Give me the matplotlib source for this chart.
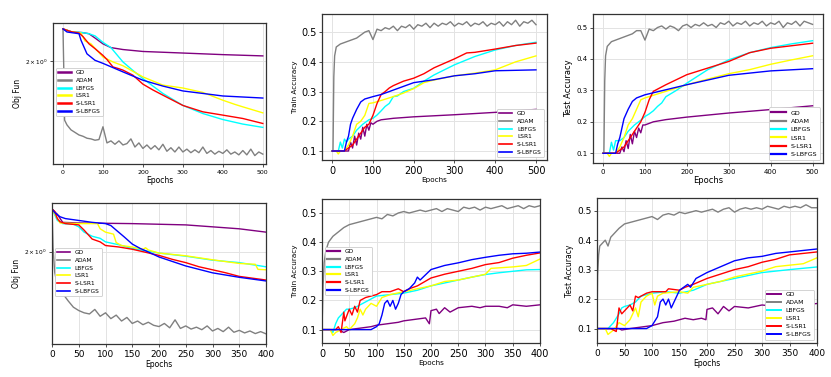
import matplotlib
matplotlib.use("Agg")
import matplotlib.pyplot as plt

# ---------------- data ----------------
METHODS = ["GD", "ADAM", "LBFGS", "LSR1", "S-LSR1", "S-LBFGS"]
COLORS = ["purple", "gray", "cyan", "yellow", "red", "blue"]

ADAM_X_TOP = [0, 2, 4] + list(range(10, 501, 10))

# Panel 1: objective, 500 epochs
P1_GD_X = [0, 20, 50, 65, 80, 100, 120, 150, 200, 250, 300, 400, 500]
P1_GD_Y = [2.43, 2.39, 2.375, 2.36, 2.30, 2.22, 2.17, 2.145, 2.12, 2.11, 2.10, 2.08, 2.064]
P1_ADAM_Y = [2.43, 1.9, 1.40,
             1.36, 1.32, 1.30, 1.28, 1.27, 1.255, 1.25, 1.24, 1.245, 1.345,
             1.22, 1.235, 1.21, 1.235, 1.205, 1.215, 1.25, 1.19, 1.22, 1.18,
             1.205, 1.175, 1.20, 1.17, 1.21, 1.16, 1.185, 1.155, 1.19, 1.155,
             1.175, 1.15, 1.17, 1.15, 1.19, 1.145, 1.165, 1.14, 1.16, 1.145,
             1.17, 1.14, 1.155, 1.135, 1.165, 1.135, 1.175, 1.13, 1.155, 1.14]
P1_LBFGS_X = [0, 20, 50, 65, 80, 100, 120, 150, 175, 200, 225, 250, 300, 350, 400, 450, 500]
P1_LBFGS_Y = [2.43, 2.39, 2.375, 2.36, 2.33, 2.24, 2.17, 1.99, 1.89, 1.80, 1.72, 1.645, 1.53, 1.457, 1.405, 1.367, 1.34]
P1_LSR1_X = [0, 20, 45, 55, 70, 100, 125, 150, 200, 250, 300, 350, 400, 430, 450, 500]
P1_LSR1_Y = [2.43, 2.39, 2.37, 2.26, 2.22, 2.05, 1.99, 1.945, 1.818, 1.73, 1.70, 1.655, 1.579, 1.54, 1.517, 1.463]
P1_SLSR1_X = [0, 20, 40, 50, 65, 80, 100, 110, 125, 140, 150, 175, 200, 225, 250, 300, 350, 400, 450, 500]
P1_SLSR1_Y = [2.43, 2.39, 2.37, 2.32, 2.22, 2.157, 2.07, 2.02, 1.931, 1.91, 1.894, 1.837, 1.74, 1.68, 1.628, 1.53, 1.472, 1.443, 1.414, 1.372]
P1_SLBFGS_X = [0, 10, 40, 45, 60, 80, 100, 150, 200, 250, 300, 350, 400, 500]
P1_SLBFGS_Y = [2.43, 2.385, 2.36, 2.27, 2.09, 2.01, 1.973, 1.874, 1.782, 1.72, 1.67, 1.645, 1.62, 1.60]

# Panel 2: train accuracy, 500 epochs
ADAM_X_TOP2 = [0, 2, 4, 6] + list(range(10, 501, 10))
P2_GD_X = [0, 40, 45, 50, 55, 60, 65, 70, 75, 80, 85, 90, 95, 100, 110, 120, 150, 200, 300, 400, 500]
P2_GD_Y = [0.1, 0.1, 0.13, 0.11, 0.15, 0.12, 0.16, 0.14, 0.18, 0.15, 0.19, 0.17, 0.195, 0.19, 0.20, 0.205, 0.21, 0.215, 0.222, 0.23, 0.24]
P2_ADAM_Y = [0.1, 0.1, 0.35, 0.42, 0.45,
             0.46, 0.465, 0.47, 0.475, 0.48, 0.49, 0.50, 0.505, 0.475, 0.51,
             0.505, 0.515, 0.51, 0.52, 0.505, 0.52, 0.515, 0.525, 0.51, 0.525,
             0.52, 0.53, 0.515, 0.53, 0.52, 0.53, 0.525, 0.535, 0.52, 0.53,
             0.525, 0.535, 0.52, 0.53, 0.525, 0.535, 0.52, 0.53, 0.525, 0.535,
             0.52, 0.535, 0.525, 0.54, 0.52, 0.535, 0.53, 0.54, 0.525]
P2_LBFGS_X = [0, 15, 20, 25, 30, 35, 40, 50, 60, 75, 90, 100, 110, 120, 130, 140, 150, 160, 175, 200, 225, 250, 300, 350, 400, 450, 500]
P2_LBFGS_Y = [0.1, 0.1, 0.13, 0.11, 0.14, 0.13, 0.14, 0.15, 0.17, 0.19, 0.205, 0.21, 0.221, 0.235, 0.25, 0.26, 0.283, 0.285, 0.30, 0.311, 0.335, 0.356, 0.39, 0.418, 0.44, 0.455, 0.466]
P2_LSR1_X = [0, 10, 15, 20, 30, 40, 50, 55, 60, 70, 80, 90, 100, 120, 150, 175, 200, 225, 250, 300, 350, 400, 450, 500]
P2_LSR1_Y = [0.1, 0.1, 0.09, 0.1, 0.1, 0.12, 0.15, 0.17, 0.19, 0.20, 0.22, 0.26, 0.262, 0.27, 0.283, 0.295, 0.31, 0.33, 0.339, 0.353, 0.362, 0.373, 0.40, 0.42]
P2_SLSR1_X = [0, 30, 40, 50, 60, 70, 80, 90, 100, 110, 120, 130, 140, 150, 175, 200, 225, 250, 275, 300, 330, 350, 400, 450, 500]
P2_SLSR1_Y = [0.1, 0.1, 0.11, 0.12, 0.14, 0.16, 0.18, 0.19, 0.22, 0.26, 0.29, 0.30, 0.312, 0.32, 0.335, 0.345, 0.36, 0.38, 0.395, 0.41, 0.43, 0.432, 0.443, 0.455, 0.463]
P2_SLBFGS_X = [0, 30, 35, 40, 45, 50, 60, 70, 80, 100, 120, 140, 160, 180, 200, 250, 300, 350, 400, 500]
P2_SLBFGS_Y = [0.1, 0.1, 0.13, 0.15, 0.19, 0.21, 0.24, 0.265, 0.275, 0.283, 0.29, 0.30, 0.31, 0.32, 0.33, 0.34, 0.353, 0.36, 0.37, 0.373]

# Panel 3: test accuracy, 500 epochs
P3_GD_X = [0, 40, 45, 50, 55, 60, 65, 70, 75, 80, 85, 90, 95, 100, 120, 150, 200, 300, 400, 500]
P3_GD_Y = [0.1, 0.1, 0.12, 0.105, 0.14, 0.115, 0.16, 0.13, 0.17, 0.15, 0.18, 0.165, 0.19, 0.19, 0.2, 0.207, 0.215, 0.228, 0.239, 0.251]
P3_ADAM_Y = [0.1, 0.1, 0.33, 0.41, 0.44,
             0.455, 0.46, 0.465, 0.47, 0.475, 0.48, 0.49, 0.49, 0.46, 0.495,
             0.49, 0.50, 0.505, 0.495, 0.505, 0.50, 0.49, 0.505, 0.51, 0.50,
             0.51, 0.505, 0.515, 0.505, 0.51, 0.50, 0.515, 0.51, 0.52, 0.505,
             0.515, 0.51, 0.52, 0.505, 0.515, 0.51, 0.52, 0.505, 0.515, 0.51,
             0.52, 0.50, 0.515, 0.51, 0.52, 0.505, 0.52, 0.515, 0.51]
P3_LBFGS_X = [0, 15, 20, 25, 30, 40, 50, 60, 75, 90, 100, 110, 120, 130, 140, 150, 175, 200, 250, 300, 350, 400, 450, 500]
P3_LBFGS_Y = [0.1, 0.1, 0.135, 0.11, 0.14, 0.14, 0.15, 0.17, 0.19, 0.205, 0.217, 0.225, 0.235, 0.249, 0.26, 0.28, 0.30, 0.323, 0.366, 0.397, 0.42, 0.436, 0.448, 0.458]
P3_LSR1_X = [0, 10, 15, 20, 30, 40, 50, 55, 60, 70, 80, 90, 100, 150, 200, 250, 300, 350, 400, 450, 500]
P3_LSR1_Y = [0.1, 0.1, 0.09, 0.1, 0.1, 0.12, 0.15, 0.17, 0.19, 0.21, 0.24, 0.27, 0.276, 0.297, 0.318, 0.336, 0.353, 0.366, 0.383, 0.397, 0.41]
P3_SLSR1_X = [0, 30, 40, 50, 60, 70, 80, 90, 100, 110, 120, 150, 200, 250, 300, 350, 400, 450, 500]
P3_SLSR1_Y = [0.1, 0.1, 0.11, 0.12, 0.14, 0.16, 0.18, 0.2, 0.23, 0.27, 0.297, 0.318, 0.35, 0.371, 0.392, 0.42, 0.434, 0.442, 0.45]
P3_SLBFGS_X = [0, 30, 35, 40, 45, 50, 60, 70, 80, 100, 150, 200, 300, 400, 500]
P3_SLBFGS_Y = [0.1, 0.1, 0.13, 0.15, 0.18, 0.21, 0.24, 0.265, 0.276, 0.286, 0.302, 0.318, 0.348, 0.362, 0.369]

# Panel 4: objective, 400 epochs
ADAM_X_BOT = [0, 2, 5, 10, 20, 30, 40] + list(range(50, 401, 10))
P4_GD_X = [0, 10, 20, 50, 100, 150, 200, 250, 300, 350, 400]
P4_GD_Y = [2.64, 2.55, 2.42, 2.41, 2.405, 2.40, 2.39, 2.38, 2.35, 2.32, 2.27]
P4_ADAM_Y = [2.64, 2.05, 1.75, 1.60, 1.52, 1.45, 1.39,
             1.36, 1.34, 1.33, 1.37, 1.31, 1.34, 1.29, 1.32, 1.27, 1.30,
             1.25, 1.27, 1.24, 1.26, 1.235, 1.225, 1.25, 1.215, 1.28, 1.21,
             1.23, 1.205, 1.22, 1.20, 1.23, 1.19, 1.21, 1.185, 1.22, 1.18,
             1.195, 1.175, 1.19, 1.17, 1.185, 1.168]
P4_LBFGS_X = [0, 10, 20, 40, 50, 60, 75, 90, 100, 125, 150, 200, 250, 300, 350, 400]
P4_LBFGS_Y = [2.64, 2.45, 2.40, 2.39, 2.35, 2.27, 2.21, 2.18, 2.13, 2.09, 2.04, 1.98, 1.94, 1.89, 1.86, 1.81]
P4_LSR1_X = [0, 15, 50, 85, 90, 100, 115, 120, 130, 150, 170, 175, 180, 200, 250, 300, 350, 380, 385, 400]
P4_LSR1_Y = [2.64, 2.41, 2.40, 2.40, 2.32, 2.27, 2.24, 2.12, 2.08, 2.06, 2.03, 2.05, 2.02, 1.98, 1.945, 1.895, 1.85, 1.84, 1.78, 1.775]
P4_SLSR1_X = [0, 5, 10, 15, 25, 50, 60, 75, 90, 100, 125, 150, 175, 200, 225, 250, 275, 300, 325, 350, 375, 400]
P4_SLSR1_Y = [2.64, 2.60, 2.48, 2.43, 2.40, 2.38, 2.30, 2.17, 2.13, 2.08, 2.06, 2.03, 1.99, 1.95, 1.90, 1.86, 1.81, 1.775, 1.74, 1.70, 1.68, 1.66]
P4_SLBFGS_X = [0, 5, 15, 25, 50, 75, 100, 110, 120, 135, 150, 165, 175, 200, 250, 300, 350, 400]
P4_SLBFGS_Y = [2.64, 2.58, 2.51, 2.48, 2.45, 2.42, 2.40, 2.37, 2.30, 2.20, 2.10, 2.04, 2.01, 1.93, 1.82, 1.74, 1.69, 1.65]

# Panel 5: train accuracy, 400 epochs
ADAM_X_P5 = [0, 2, 4, 7, 12, 20, 30, 40] + list(range(50, 401, 10))
P5_ADAM_Y = [0.10, 0.25, 0.33, 0.37, 0.40, 0.42, 0.435, 0.45,
             0.46, 0.465, 0.47, 0.475, 0.48, 0.485, 0.48, 0.495, 0.49, 0.50,
             0.505, 0.50, 0.505, 0.51, 0.505, 0.51, 0.515, 0.505, 0.515, 0.51,
             0.505, 0.52, 0.515, 0.52, 0.51, 0.52, 0.515, 0.52, 0.525, 0.515,
             0.52, 0.525, 0.515, 0.525, 0.52, 0.525]
P5_GD_X = [0, 30, 35, 40, 50, 70, 90, 100, 120, 140, 150, 170, 190, 197, 200, 210, 215, 225, 235, 250, 275, 290, 300, 325, 340, 350, 375, 400]
P5_GD_Y = [0.1, 0.1, 0.095, 0.09, 0.1, 0.105, 0.11, 0.115, 0.12, 0.125, 0.13, 0.135, 0.14, 0.12, 0.165, 0.17, 0.155, 0.175, 0.16, 0.175, 0.18, 0.175, 0.18, 0.18, 0.175, 0.185, 0.18, 0.185]
P5_LBFGS_X = [0, 15, 20, 25, 30, 40, 45, 50, 60, 75, 90, 100, 125, 150, 175, 200, 225, 250, 275, 300, 325, 350, 375, 400]
P5_LBFGS_Y = [0.1, 0.1, 0.09, 0.12, 0.14, 0.16, 0.17, 0.17, 0.175, 0.19, 0.205, 0.215, 0.22, 0.225, 0.235, 0.25, 0.26, 0.27, 0.28, 0.289, 0.295, 0.30, 0.305, 0.306]
P5_LSR1_X = [0, 15, 20, 25, 35, 45, 50, 60, 65, 70, 75, 80, 90, 100, 110, 125, 150, 175, 200, 225, 250, 275, 300, 310, 350, 375, 400]
P5_LSR1_Y = [0.1, 0.1, 0.08, 0.09, 0.1, 0.11, 0.10, 0.12, 0.14, 0.17, 0.15, 0.17, 0.19, 0.18, 0.21, 0.22, 0.23, 0.24, 0.25, 0.265, 0.27, 0.28, 0.29, 0.31, 0.315, 0.32, 0.342]
P5_SLSR1_X = [0, 25, 30, 35, 40, 42, 50, 55, 60, 65, 70, 80, 90, 100, 110, 125, 140, 150, 160, 175, 200, 225, 250, 275, 300, 325, 350, 375, 400]
P5_SLSR1_Y = [0.1, 0.1, 0.11, 0.09, 0.16, 0.13, 0.17, 0.15, 0.18, 0.16, 0.20, 0.21, 0.215, 0.22, 0.23, 0.23, 0.24, 0.23, 0.24, 0.25, 0.277, 0.29, 0.30, 0.31, 0.323, 0.33, 0.345, 0.355, 0.363]
P5_SLBFGS_X = [0, 90, 95, 100, 105, 110, 115, 120, 125, 130, 135, 140, 145, 150, 160, 170, 175, 180, 200, 225, 250, 275, 300, 325, 350, 375, 400]
P5_SLBFGS_Y = [0.1, 0.1, 0.105, 0.11, 0.12, 0.15, 0.19, 0.20, 0.18, 0.20, 0.17, 0.19, 0.22, 0.23, 0.24, 0.26, 0.28, 0.27, 0.306, 0.32, 0.329, 0.34, 0.348, 0.355, 0.36, 0.362, 0.366]

# Panel 6: test accuracy, 400 epochs
ADAM_X_P6 = [0, 1, 3, 5, 10, 15, 20, 25, 30, 40] + list(range(50, 401, 10))
P6_ADAM_Y = [0.1, 0.28, 0.35, 0.38, 0.39, 0.40, 0.38, 0.41, 0.42, 0.44,
             0.455, 0.46, 0.465, 0.47, 0.475, 0.48, 0.47, 0.485, 0.49, 0.485,
             0.495, 0.49, 0.495, 0.50, 0.495, 0.50, 0.505, 0.495, 0.505, 0.51,
             0.495, 0.505, 0.51, 0.505, 0.51, 0.505, 0.515, 0.51, 0.505, 0.515,
             0.51, 0.515, 0.51, 0.52, 0.51, 0.51]
P6_GD_X = [0, 40, 45, 60, 80, 100, 120, 140, 160, 175, 190, 198, 200, 210, 220, 230, 240, 250, 275, 300, 325, 350, 375, 400]
P6_GD_Y = [0.1, 0.1, 0.095, 0.1, 0.105, 0.11, 0.12, 0.125, 0.135, 0.13, 0.135, 0.13, 0.165, 0.17, 0.15, 0.175, 0.16, 0.175, 0.17, 0.18, 0.175, 0.185, 0.18, 0.185]
P6_LBFGS_X = [0, 20, 30, 40, 45, 50, 60, 70, 80, 100, 125, 150, 175, 200, 225, 250, 275, 300, 350, 400]
P6_LBFGS_Y = [0.1, 0.1, 0.12, 0.15, 0.17, 0.175, 0.18, 0.19, 0.21, 0.22, 0.225, 0.22, 0.23, 0.25, 0.26, 0.27, 0.28, 0.29, 0.30, 0.309]
P6_LSR1_X = [0, 15, 20, 30, 40, 50, 60, 65, 70, 75, 80, 90, 100, 105, 110, 120, 150, 165, 175, 200, 225, 250, 275, 300, 325, 350, 375, 400]
P6_LSR1_Y = [0.1, 0.1, 0.08, 0.095, 0.12, 0.11, 0.13, 0.15, 0.17, 0.14, 0.19, 0.21, 0.22, 0.18, 0.21, 0.22, 0.225, 0.22, 0.24, 0.25, 0.26, 0.275, 0.285, 0.295, 0.31, 0.315, 0.32, 0.34]
P6_SLSR1_X = [0, 25, 35, 40, 45, 50, 60, 65, 70, 75, 90, 100, 125, 130, 150, 160, 175, 200, 225, 250, 275, 300, 325, 350, 375, 400]
P6_SLSR1_Y = [0.1, 0.1, 0.09, 0.17, 0.15, 0.16, 0.18, 0.16, 0.21, 0.205, 0.22, 0.225, 0.225, 0.235, 0.23, 0.24, 0.25, 0.27, 0.285, 0.30, 0.31, 0.325, 0.335, 0.35, 0.355, 0.36]
P6_SLBFGS_X = [0, 90, 100, 110, 115, 120, 125, 130, 135, 140, 150, 165, 170, 180, 200, 225, 250, 275, 300, 325, 350, 375, 400]
P6_SLBFGS_Y = [0.1, 0.1, 0.11, 0.14, 0.19, 0.20, 0.18, 0.20, 0.17, 0.19, 0.23, 0.25, 0.24, 0.27, 0.29, 0.31, 0.33, 0.34, 0.345, 0.355, 0.36, 0.365, 0.37]

# ---------------- drawing ----------------
W, H = 831, 377
fig = plt.figure(figsize=(W / 100, H / 100), dpi=100)
fig.patch.set_facecolor("white")


def make_ax(x0, y0, x1, y1):
    return fig.add_axes([x0 / W, 1 - y1 / H, (x1 - x0) / W, (y1 - y0) / H])


def style(ax, tick_fs, label_fs, ylabel):
    ax.set_facecolor("white")
    ax.grid(True, color="#e3e3e3", linewidth=0.7)
    ax.set_axisbelow(True)
    for s in ax.spines.values():
        s.set_color("#333333")
        s.set_linewidth(0.9)
    ax.tick_params(axis="both", which="major", labelsize=tick_fs, length=2,
                   width=0.6, color="#333333", pad=2)
    ax.tick_params(axis="both", which="minor", length=0)
    ax.set_xlabel("Epochs", fontsize=label_fs, labelpad=1)
    ax.set_ylabel(ylabel, fontsize=label_fs, labelpad=2)


def draw(ax, series, lw=1.0):
    for (x, y), name, c in zip(series, METHODS, COLORS):
        ax.plot(x, y, color=c, lw=lw, label=name)


panels = [
    dict(box=(53, 23, 266, 164), log=True, ylim=(1.074, 2.518), xlim=(-25, 508),
         xticks=[0, 100, 200, 300, 400, 500], tick_fs=4.5, label_fs=5.5, ylabel="Obj Fun",
         legend=dict(loc="center left", bbox_to_anchor=(0.0, 0.51)), leg_fs=4.2, leg_lw=1.8,
         series=[(P1_GD_X, P1_GD_Y), (ADAM_X_TOP, P1_ADAM_Y), (P1_LBFGS_X, P1_LBFGS_Y),
                 (P1_LSR1_X, P1_LSR1_Y), (P1_SLSR1_X, P1_SLSR1_Y), (P1_SLBFGS_X, P1_SLBFGS_Y)]),
    dict(box=(322, 14, 547, 160), log=False, ylim=(0.0697, 0.561), xlim=(-25, 527),
         xticks=[0, 100, 200, 300, 400, 500], yticks=[0.1, 0.2, 0.3, 0.4, 0.5],
         tick_fs=7, label_fs=5.2, ylabel="Train Accuracy",
         legend=dict(loc="lower right"), leg_fs=4.2, leg_lw=1.2,
         series=[(P2_GD_X, P2_GD_Y), (ADAM_X_TOP2, P2_ADAM_Y), (P2_LBFGS_X, P2_LBFGS_Y),
                 (P2_LSR1_X, P2_LSR1_Y), (P2_SLSR1_X, P2_SLSR1_Y), (P2_SLBFGS_X, P2_SLBFGS_Y)]),
    dict(box=(593, 14, 823, 163), log=False, ylim=(0.069, 0.543), xlim=(-24, 525),
         xticks=[0, 100, 200, 300, 400, 500], yticks=[0.1, 0.2, 0.3, 0.4, 0.5],
         tick_fs=5, label_fs=6, ylabel="Test Accuracy",
         legend=dict(loc="lower right"), leg_fs=4.6, leg_lw=1.6,
         series=[(P3_GD_X, P3_GD_Y), (ADAM_X_TOP2, P3_ADAM_Y), (P3_LBFGS_X, P3_LBFGS_Y),
                 (P3_LSR1_X, P3_LSR1_Y), (P3_SLSR1_X, P3_SLSR1_Y), (P3_SLBFGS_X, P3_SLBFGS_Y)]),
    dict(box=(52, 203, 266, 344), log=True, ylim=(1.093, 2.746), xlim=(0, 400),
         xticks=[0, 50, 100, 150, 200, 250, 300, 350, 400], tick_fs=6.5, label_fs=5.5, ylabel="Obj Fun",
         legend=dict(loc="center left", bbox_to_anchor=(0.0, 0.51)), leg_fs=4.2, leg_lw=1.2,
         series=[(P4_GD_X, P4_GD_Y), (ADAM_X_BOT, P4_ADAM_Y), (P4_LBFGS_X, P4_LBFGS_Y),
                 (P4_LSR1_X, P4_LSR1_Y), (P4_SLSR1_X, P4_SLSR1_Y), (P4_SLBFGS_X, P4_SLBFGS_Y)]),
    dict(box=(322, 199, 540, 343), log=False, ylim=(0.054, 0.548), xlim=(0, 400),
         xticks=[0, 50, 100, 150, 200, 250, 300, 350, 400], yticks=[0.1, 0.2, 0.3, 0.4, 0.5],
         tick_fs=7, label_fs=5.2, ylabel="Train Accuracy",
         legend=dict(loc="center left", bbox_to_anchor=(0.0, 0.50)), leg_fs=4.2, leg_lw=1.6,
         series=[(P5_GD_X, P5_GD_Y), (ADAM_X_P5, P5_ADAM_Y), (P5_LBFGS_X, P5_LBFGS_Y),
                 (P5_LSR1_X, P5_LSR1_Y), (P5_SLSR1_X, P5_SLSR1_Y), (P5_SLBFGS_X, P5_SLBFGS_Y)]),
    dict(box=(597, 198, 817, 343), log=False, ylim=(0.051, 0.543), xlim=(0, 400),
         xticks=[0, 50, 100, 150, 200, 250, 300, 350, 400], yticks=[0.1, 0.2, 0.3, 0.4, 0.5],
         tick_fs=6.5, label_fs=5.5, ylabel="Test Accuracy",
         legend=dict(loc="lower right"), leg_fs=4.4, leg_lw=1.4,
         series=[(P6_GD_X, P6_GD_Y), (ADAM_X_P6, P6_ADAM_Y), (P6_LBFGS_X, P6_LBFGS_Y),
                 (P6_LSR1_X, P6_LSR1_Y), (P6_SLSR1_X, P6_SLSR1_Y), (P6_SLBFGS_X, P6_SLBFGS_Y)]),
]

for p in panels:
    ax = make_ax(*p["box"])
    draw(ax, p["series"])
    if p["log"]:
        ax.set_yscale("log")
        ax.set_ylim(*p["ylim"])
        ax.yaxis.set_minor_locator(matplotlib.ticker.NullLocator())
        ax.yaxis.set_minor_formatter(matplotlib.ticker.NullFormatter())
        ax.set_yticks([2])
        ax.set_yticklabels([r"$2\times10^{0}$"])
    else:
        ax.set_ylim(*p["ylim"])
        ax.set_yticks(p["yticks"])
        ax.set_yticklabels([f"{v:.1f}" for v in p["yticks"]])
    ax.set_xlim(*p["xlim"])
    ax.set_xticks(p["xticks"])
    style(ax, p["tick_fs"], p["label_fs"], p["ylabel"])
    if p["log"]:
        ax.tick_params(axis="y", labelsize=4.2)
    leg = ax.legend(fontsize=p["leg_fs"], frameon=True, handlelength=2.2,
                    borderpad=0.4, labelspacing=0.45, framealpha=1.0,
                    **p["legend"])
    leg.get_frame().set_edgecolor("#cccccc")
    leg.get_frame().set_linewidth(0.6)
    for line in leg.get_lines():
        line.set_linewidth(p["leg_lw"])

fig.savefig("out.png", dpi=100, facecolor="white")
